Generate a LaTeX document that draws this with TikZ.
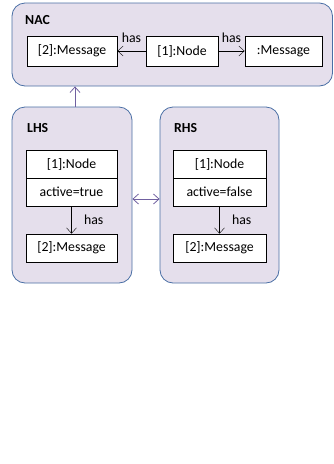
\documentclass[tikz,border=0pt]{standalone}
\usepackage{fontspec}
\setmainfont{Carlito}
\usetikzlibrary{positioning,arrows.meta}
\definecolor{grpfill}{HTML}{E5DFEC}
\definecolor{grpline}{HTML}{4A6FA5}
\definecolor{linkcol}{HTML}{7060A0}

\begin{document}
\begin{tikzpicture}[x=1pt,y=-1pt,>={Straight Barb[length=5.5pt,width=10pt]},
    font=\fontsize{13.8}{16}\selectfont,
    group/.style={draw=grpline,fill=grpfill,line width=0.8pt,rounded corners=13pt,inner sep=0pt},
    obj/.style={draw,line width=0.8pt,fill=white,minimum height=30pt,inner sep=0pt},
    attr/.style={obj,minimum height=28pt,minimum width=91pt},
    title/.style={anchor=west,inner sep=0pt,font=\fontsize{13.8}{16}\selectfont\bfseries}]

    \useasboundingbox (0,0) rectangle (334,464);

    % graph containers
    \path
    (172.25,44.5) node[group,minimum width=320.5pt,minimum height=83pt] (NAC) {}
    (72,195)      node[group,minimum width=120pt,minimum height=176pt]  (LHS) {}
    (219.5,195)   node[group,minimum width=119pt,minimum height=176pt]  (RHS) {};

    \node[title] (nacT) at (25,20.5) {NAC};
    \node[title] (lhsT) at (27,128) {LHS};
    \node[title] (rhsT) at (174,128) {RHS};

    % NAC
    \path
    (72,51)    node[obj,minimum width=90pt] (n2) {[2]:Message}
    (182,51)   node[obj,minimum width=72pt] (n1) {[1]:Node}
    (283.5,51) node[obj,minimum width=77pt] (n3) {:Message};

    \draw[->] (n1)--(n2) node[midway,above=4.5pt]{has};
    \draw[->] (n1)--(n3) node[midway,above=4.5pt]{has};

    % LHS
    \path
    (71.5,164) node[attr] (l1) {[1]:Node}
    (71.5,192) node[attr] (l1a) {active=true}
    (71.5,248) node[attr] (l2) {[2]:Message};
    \draw[->] (l1a)--(l2) node[midway,right=9pt]{has};

    % RHS
    \path
    (219.5,164) node[attr,minimum width=93pt] (r1) {[1]:Node}
    (219.5,192) node[attr,minimum width=93pt] (r1a) {active=false}
    (219.5,248) node[attr,minimum width=93pt] (r2) {[2]:Message};
    \draw[->] (r1a)--(r2) node[midway,right=9pt]{has};

    % links between the graphs
    \draw[->,draw=linkcol,line width=0.8pt] ([xshift=3pt]LHS.north) -- ([xshift=3pt]LHS.north |- NAC.south);
    \draw[<->,draw=linkcol,line width=0.8pt] ([yshift=-4pt]LHS.east) -- ([yshift=-4pt]RHS.west);

\end{tikzpicture}
\end{document}
